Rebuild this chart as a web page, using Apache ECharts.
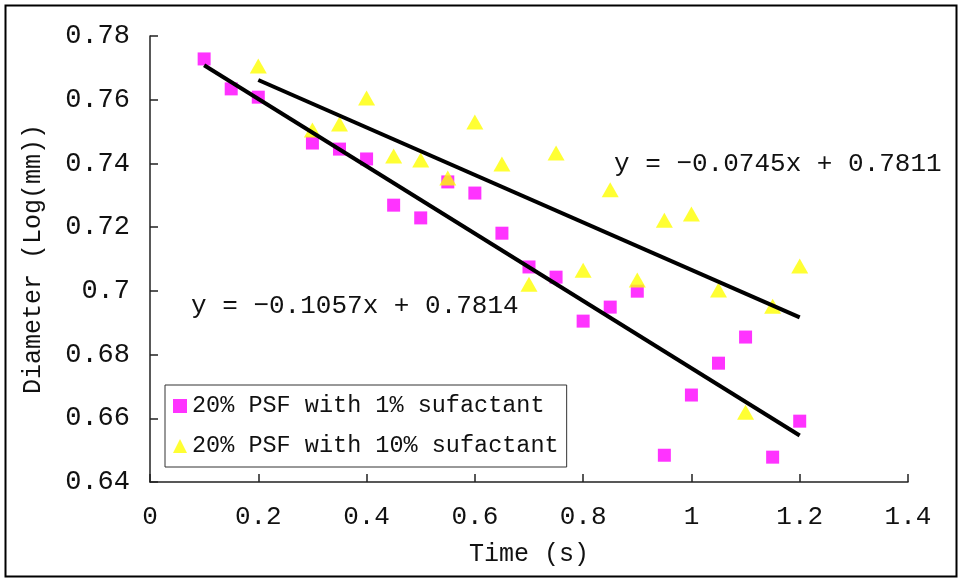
<!DOCTYPE html>
<html>
<head>
<meta charset="utf-8">
<script src="https://cdn.jsdelivr.net/npm/echarts@6/dist/echarts.min.js"></script>
<style>
  html, body { margin: 0; padding: 0; background: #fff; }
  #chart { width: 958px; height: 578px; }
</style>
</head>
<body>
<div id="chart"></div>
<script>
// data
const timeLow = [0.1, 0.15, 0.2, 0.3, 0.35, 0.4, 0.45, 0.5, 0.55, 0.6, 0.65, 0.7, 0.75, 0.8, 0.85, 0.9, 0.95, 1.0, 1.05, 1.1, 1.15, 1.2];
const diamLow = [0.7728, 0.7634, 0.7608, 0.7464, 0.7445, 0.7414, 0.7269, 0.7229, 0.7342, 0.7307, 0.7181, 0.7075, 0.7043, 0.6905, 0.6949, 0.6999, 0.6484, 0.6673, 0.6773, 0.6855, 0.6478, 0.6591];

const timeHigh = [0.2, 0.3, 0.35, 0.4, 0.45, 0.5, 0.55, 0.6, 0.65, 0.7, 0.75, 0.8, 0.85, 0.9, 0.95, 1.0, 1.05, 1.1, 1.15, 1.2];
const diamHigh = [0.7706, 0.7505, 0.7524, 0.7605, 0.7423, 0.7411, 0.7354, 0.7530, 0.7398, 0.7021, 0.7433, 0.7065, 0.7317, 0.7034, 0.7222, 0.7241, 0.7003, 0.6619, 0.6952, 0.7078];

// trend line end points
const trendLow = [[0.1, 0.7708], [1.2, 0.6546]];
const trendHigh = [[0.2, 0.7662], [1.2, 0.6917]];

const seriesNames = ['20% PSF with 1% sufactant', '20% PSF with 10% sufactant'];
const eqLow = 'y = −0.1057x + 0.7814';
const eqHigh = 'y = −0.0745x + 0.7811';

const FONT = '"Liberation Mono", "DejaVu Sans Mono", monospace';

const chart = echarts.init(document.getElementById('chart'), null, { renderer: 'canvas' });

const axisLineStyle = { color: '#222', width: 1.5 };

const option = {
  animation: false,
  backgroundColor: '#fff',
  grid: { left: 150, top: 36, right: 50, bottom: 96, containLabel: false },
  legend: {
    data: seriesNames,
    orient: 'vertical',
    left: 165,
    top: 385,
    backgroundColor: '#fff',
    borderColor: '#333',
    borderWidth: 1,
    padding: [8, 8, 8, 8],
    itemGap: 14,
    itemWidth: 14,
    itemHeight: 14,
    textStyle: { fontFamily: FONT, fontSize: 23.5, color: '#111', lineHeight: 26 }
  },
  xAxis: {
    type: 'value',
    min: 0,
    max: 1.4,
    interval: 0.2,
    name: 'Time (s)',
    nameLocation: 'middle',
    nameGap: 60,
    nameTextStyle: { fontFamily: FONT, fontSize: 25, color: '#111' },
    axisLine: { show: true, onZero: false, lineStyle: axisLineStyle },
    axisTick: { show: true, inside: true, length: 8, lineStyle: axisLineStyle },
    axisLabel: { fontFamily: FONT, fontSize: 26, color: '#111', margin: 22 },
    splitLine: { show: false }
  },
  yAxis: {
    type: 'value',
    min: 0.64,
    max: 0.78,
    interval: 0.02,
    name: 'Diameter (Log(mm))',
    nameLocation: 'middle',
    nameRotate: 90,
    nameGap: 104,
    nameTextStyle: { fontFamily: FONT, fontSize: 25, color: '#111' },
    axisLine: { show: true, onZero: false, lineStyle: axisLineStyle },
    axisTick: { show: true, inside: true, length: 8, lineStyle: axisLineStyle },
    axisLabel: { fontFamily: FONT, fontSize: 27, color: '#111', margin: 20 },
    splitLine: { show: false }
  },
  series: [
    {
      name: seriesNames[0],
      type: 'scatter',
      symbol: 'rect',
      symbolSize: 13,
      itemStyle: { color: '#FF00FF' },
      data: timeLow.map((t, i) => [t, diamLow[i]]),
      z: 2
    },
    {
      name: seriesNames[1],
      type: 'scatter',
      symbol: 'triangle',
      symbolSize: [17, 15],
      itemStyle: { color: '#FFFF00' },
      data: timeHigh.map((t, i) => [t, diamHigh[i]]),
      z: 2
    },
    {
      name: 'trendLow',
      type: 'line',
      showSymbol: false,
      silent: true,
      lineStyle: { color: '#000', width: 4 },
      data: trendLow,
      z: 3
    },
    {
      name: 'trendHigh',
      type: 'line',
      showSymbol: false,
      silent: true,
      lineStyle: { color: '#000', width: 4 },
      data: trendHigh,
      z: 3
    }
  ],
  graphic: [
    {
      type: 'rect',
      left: 3,
      top: 3,
      shape: { width: 951, height: 571 },
      style: { fill: 'none', stroke: '#000', lineWidth: 2 },
      silent: true
    },
    {
      type: 'text',
      left: 614,
      top: 151,
      style: { text: eqHigh, fontFamily: FONT, fontSize: 26, fill: '#111' }
    },
    {
      type: 'text',
      left: 191,
      top: 293,
      style: { text: eqLow, fontFamily: FONT, fontSize: 26, fill: '#111' }
    }
  ]
};

chart.setOption(option);
</script>
</body>
</html>
